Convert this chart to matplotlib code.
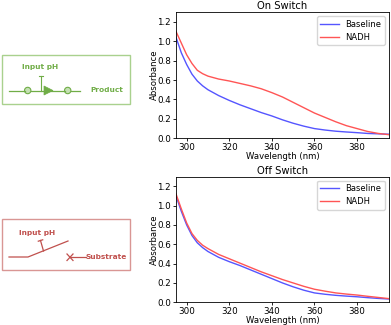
import matplotlib
matplotlib.use("Agg")
import matplotlib.pyplot as plt
from matplotlib.patches import Rectangle, Circle, Polygon

# --- data --------------------------------------------------------------
wavelength = [295, 297.5, 300, 302.5, 305, 307.5, 310, 315, 320, 325, 330, 335,
              340, 345, 350, 355, 360, 365, 370, 375, 380, 385, 390, 395]

on_baseline = [1.04, 0.88, 0.76, 0.66, 0.59, 0.54, 0.50, 0.44, 0.39, 0.345, 0.305, 0.265,
               0.23, 0.19, 0.155, 0.125, 0.10, 0.085, 0.073, 0.065, 0.058, 0.05, 0.046, 0.042]
on_nadh = [1.10, 0.98, 0.86, 0.77, 0.70, 0.665, 0.64, 0.61, 0.59, 0.565, 0.54, 0.51,
           0.47, 0.425, 0.37, 0.315, 0.26, 0.215, 0.17, 0.13, 0.10, 0.07, 0.05, 0.037]

off_baseline = [1.10, 0.94, 0.80, 0.69, 0.615, 0.565, 0.525, 0.465, 0.42, 0.38, 0.335, 0.29,
                0.245, 0.20, 0.16, 0.125, 0.097, 0.083, 0.072, 0.064, 0.057, 0.048, 0.04, 0.034]
off_nadh = [1.12, 0.965, 0.82, 0.71, 0.64, 0.59, 0.555, 0.495, 0.45, 0.405, 0.36, 0.315,
            0.275, 0.235, 0.20, 0.165, 0.135, 0.115, 0.097, 0.085, 0.075, 0.062, 0.05, 0.038]

W, H = 391, 325
fig = plt.figure(figsize=(W / 100, H / 100), dpi=100)

GREEN = "#70ad47"
GREEN_BOX = "#a9d18e"
RED = "#c0504d"
RED_BOX = "#d99694"


def px_axes(left, top, right, bottom):
    return fig.add_axes([left / W, 1 - bottom / H, (right - left) / W, (bottom - top) / H])


def spectrum(ax, title, base, nadh, h_px):
    ax.plot(wavelength, base, color="#5555ff", lw=1.0, label="Baseline")
    ax.plot(wavelength, nadh, color="#ff5555", lw=1.0, label="NADH")
    ax.set_xlim(295, 395)
    ax.set_ylim(0, 1.3)
    ax.set_xticks([300, 320, 340, 360, 380])
    ax.set_yticks([0.0, 0.2, 0.4, 0.6, 0.8, 1.0, 1.2])
    ax.tick_params(labelsize=6.3, length=2.5, width=0.6, pad=1.2)
    ax.set_title(title, fontsize=7.2, pad=2)
    ax.set_xlabel("Wavelength (nm)", fontsize=6.1)
    ax.set_ylabel("Absorbance", fontsize=6.1)
    ax.xaxis.set_label_coords(0.5, -18 / h_px)
    ax.xaxis.label.set_va("center")
    ax.yaxis.set_label_coords(-22 / 213, 0.5)
    ax.yaxis.label.set_va("center")
    for s in ax.spines.values():
        s.set_linewidth(0.6)
    ax.legend(fontsize=6, loc="upper right", handlelength=2.2, borderpad=0.4,
              labelspacing=0.5, framealpha=0.8)


ax1 = px_axes(176, 12, 389, 138.3)
spectrum(ax1, "On Switch", on_baseline, on_nadh, 126.3)
ax2 = px_axes(176, 176.5, 389, 302.3)
spectrum(ax2, "Off Switch", off_baseline, off_nadh, 125.8)

# --- schematic diagrams (pixel coordinates) ---------------------------
d = fig.add_axes([0, 0, 1, 1], zorder=-1)
d.set_xlim(0, W)
d.set_ylim(H, 0)
d.axis("off")

# on switch
d.add_patch(Rectangle((2, 55), 128, 49, fill=False, ec=GREEN_BOX, lw=1.0))
y0 = 90.5
d.plot([9, 24.5], [y0, y0], color=GREEN, lw=0.9)
d.plot([31, 64.5], [y0, y0], color=GREEN, lw=0.9)
d.plot([71, 80], [y0, y0], color=GREEN, lw=0.9)
for cx in (27.7, 67.7):
    d.add_patch(Circle((cx, y0), 3.2, fc="#c5e0b4", ec=GREEN, lw=0.8))
d.add_patch(Polygon([[44, y0 - 4.5], [44, y0 + 4.5], [53, y0]], closed=True,
                    fc=GREEN, ec=GREEN, lw=0.5))
d.plot([40.7, 40.7], [76, y0], color=GREEN, lw=0.8)
d.plot([38.5, 43], [76, 76], color=GREEN, lw=0.8)
d.text(40.5, 66.5, "Input pH", color=GREEN, fontsize=5.3, fontweight="bold",
       ha="center", va="center")
d.text(90.5, 90.5, "Product", color=GREEN, fontsize=5.3, fontweight="bold",
       ha="left", va="center")

# off switch
d.add_patch(Rectangle((2, 219), 128, 51, fill=False, ec=RED_BOX, lw=1.0))
y1 = 257
d.plot([9, 28, 68], [y1, y1, 241], color=RED, lw=0.9)
d.plot([43.5, 40.5], [251, 240.5], color=RED, lw=0.9)
d.plot([38.3, 42.7], [241.2, 239.8], color=RED, lw=0.9)
d.text(37, 232.5, "Input pH", color=RED, fontsize=5.3, fontweight="bold",
       ha="center", va="center")
d.plot([67, 73], [y1 - 3, y1 + 3.5], color=RED, lw=0.9)
d.plot([67, 73], [y1 + 3.5, y1 - 3], color=RED, lw=0.9)
d.plot([70, 85.5], [y1 + 0.3, y1 + 0.3], color=RED, lw=0.9)
d.text(86, y1 + 0.3, "Substrate", color=RED, fontsize=5.3, fontweight="bold",
       ha="left", va="center")

fig.savefig("out.png", dpi=100)
